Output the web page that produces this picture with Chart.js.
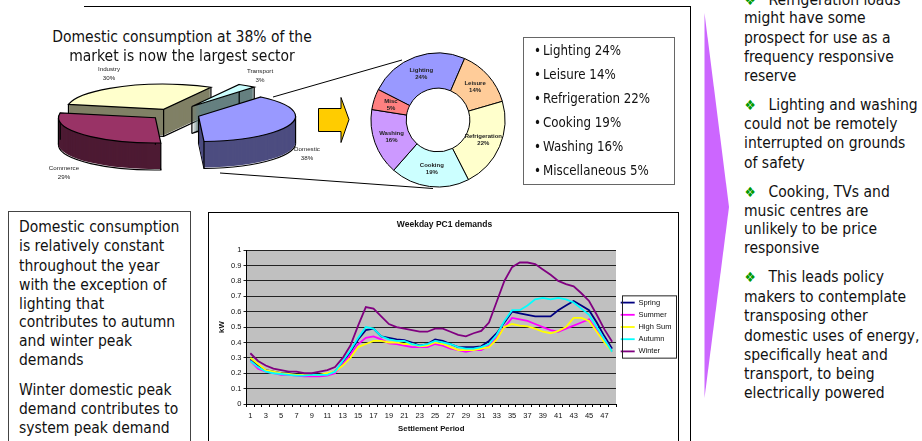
<!DOCTYPE html>
<html>
<head>
<meta charset="utf-8">
<title>Domestic consumption</title>
<script src="https://cdn.jsdelivr.net/npm/chart.js@4"></script>
<style>
  html, body { margin: 0; padding: 0; background: #fff; }
  body { width: 922px; height: 441px; position: relative; overflow: hidden; font-family: "DejaVu Sans Condensed", "DejaVu Sans", sans-serif; font-stretch: condensed; color: #111; }
  canvas { position: absolute; }
  svg { position: absolute; left: 0; top: 0; }
  .t { position: absolute; white-space: nowrap; line-height: 20px; font-size: 15.5px; }
  .small { position: absolute; white-space: nowrap; font-family: "Liberation Sans", sans-serif; font-size: 6.2px; line-height: 9.5px; text-align: center; color: #222; font-stretch: normal; }
  .box { position: absolute; box-sizing: border-box; background: #fff; }
</style>
</head>
<body>

<svg width="922" height="441">
  <!-- frame rules, callout lines, arrows -->
  <line x1="84" y1="6.5" x2="690" y2="6.5" stroke="#000" stroke-width="1"/>
  <line x1="690.5" y1="6" x2="690.5" y2="441" stroke="#000" stroke-width="1"/>
  <line x1="273" y1="97" x2="402" y2="60" stroke="#000" stroke-width="1"/>
  <line x1="220" y1="173" x2="433" y2="188.5" stroke="#000" stroke-width="1"/>
  <polygon points="318.5,108.5 341,108.5 341,97.5 349,119.5 341,142.5 341,131.5 318.5,131.5" fill="#ffcc00" stroke="#000" stroke-width="1"/>
  <polygon points="704.5,13 729,207 704.5,398" fill="#cc66ff"/>
</svg>

<div class="box" style="left:522.5px;top:36.5px;width:152px;height:148px;border:1.5px solid #666"></div>
<div class="box" style="left:7.5px;top:211px;width:183px;height:240px;border:1px solid #444"></div>
<div class="box" style="left:208px;top:212px;width:471px;height:240px;border:1.5px solid #000"></div>

<canvas id="pieChart" width="300" height="132" style="left:22px;top:48px"></canvas>
<canvas id="ringChart" width="140" height="140" style="left:368px;top:50px"></canvas>
<canvas id="demandChart" width="469" height="228" style="left:209.5px;top:213px"></canvas>

<script>
var sectorNames = ["Domestic", "Commerce", "Industry", "Transport"];
var sectorShares = [38, 29, 30, 3];

var useNames = ["Lighting", "Leisure", "Refrigeration", "Cooking", "Washing", "Misc"];
var useFullNames = ["Lighting", "Leisure", "Refrigeration", "Cooking", "Washing", "Miscellaneous"];
var useShares = [24, 14, 22, 19, 16, 5];

var periods = [];
for (var p = 1; p <= 48; p++) periods.push(p);

var spring = [0.29,0.25,0.22,0.21,0.20,0.20,0.19,0.185,0.19,0.19,0.19,0.21,0.27,0.34,0.42,0.48,0.49,0.44,0.43,0.42,0.415,0.40,0.38,0.39,0.42,0.41,0.39,0.37,0.37,0.37,0.375,0.41,0.46,0.53,0.60,0.59,0.58,0.57,0.57,0.57,0.61,0.64,0.67,0.64,0.61,0.53,0.44,0.36];
var summer = [0.28,0.23,0.21,0.20,0.19,0.19,0.185,0.18,0.18,0.18,0.185,0.20,0.26,0.32,0.39,0.43,0.44,0.42,0.395,0.39,0.38,0.37,0.37,0.37,0.39,0.38,0.36,0.35,0.34,0.35,0.35,0.38,0.43,0.50,0.56,0.55,0.54,0.52,0.50,0.48,0.47,0.49,0.51,0.53,0.55,0.48,0.42,0.34];
var highSummer = [0.30,0.26,0.22,0.21,0.20,0.195,0.19,0.19,0.19,0.19,0.20,0.21,0.25,0.30,0.37,0.39,0.41,0.41,0.40,0.40,0.39,0.39,0.375,0.38,0.40,0.39,0.37,0.35,0.35,0.35,0.36,0.37,0.42,0.50,0.52,0.51,0.505,0.49,0.47,0.46,0.475,0.50,0.56,0.56,0.54,0.47,0.40,0.34];
var autumn = [0.28,0.24,0.21,0.20,0.195,0.19,0.185,0.185,0.19,0.19,0.19,0.21,0.28,0.35,0.43,0.50,0.49,0.44,0.42,0.41,0.41,0.39,0.38,0.39,0.41,0.40,0.39,0.37,0.36,0.36,0.37,0.39,0.45,0.54,0.61,0.61,0.64,0.68,0.69,0.68,0.69,0.68,0.66,0.62,0.58,0.50,0.42,0.34];
var winter = [0.33,0.28,0.25,0.23,0.22,0.21,0.21,0.20,0.20,0.21,0.22,0.24,0.30,0.38,0.51,0.63,0.62,0.57,0.52,0.50,0.49,0.48,0.47,0.47,0.49,0.49,0.47,0.45,0.44,0.46,0.475,0.53,0.665,0.80,0.89,0.92,0.92,0.91,0.875,0.84,0.80,0.78,0.765,0.72,0.67,0.58,0.485,0.405];

var seriesNames = ["Spring", "Summer", "High Sum", "Autumn", "Winter"];
var seriesValues = [spring, summer, highSummer, autumn, winter];
var seriesColours = ["#000080", "#ff00ff", "#ffff00", "#00ffff", "#800080"];

// body text, one entry per line: [x, centre y, text]
var textLines = [
	[182, 37, "Domestic consumption at 38% of the", "c"],
	[182, 56, "market is now the largest sector", "c"],
	[19, 227, "Domestic consumption"],
	[19, 246, "is relatively constant"],
	[19, 265.5, "throughout the year"],
	[19, 285, "with the exception of"],
	[19, 303.5, "lighting that"],
	[19, 322, "contributes to autumn"],
	[19, 341, "and winter peak"],
	[19, 360, "demands"],
	[19, 390, "Winter domestic peak"],
	[19, 409, "demand contributes to"],
	[19, 428, "system peak demand"],
	[744, 18, "might have some"],
	[744, 38, "prospect for use as a"],
	[744, 57, "frequency responsive"],
	[744, 76, "reserve"],
	[744, 124, "could not be remotely"],
	[744, 143, "interrupted on grounds"],
	[744, 163, "of safety"],
	[744, 211, "music centres are"],
	[744, 229, "unlikely to be price"],
	[744, 248, "responsive"],
	[744, 297, "makers to contemplate"],
	[744, 316, "transposing other"],
	[744, 336, "domestic uses of energy,"],
	[744, 355, "specifically heat and"],
	[744, 374, "transport, to being"],
	[744, 393, "electrically powered"]
];
var bulletLines = [
	[0, "Refrigeration loads"],
	[105, "Lighting and washing"],
	[192, "Cooking, TVs and"],
	[277, "This leads policy"]
];

function addText(x, y, str, css) {
	var d = document.createElement("div");
	d.className = "t";
	d.textContent = str;
	d.style.left = x + "px";
	d.style.top = (y - 10) + "px";
	if (css) d.style.cssText += css;
	document.body.appendChild(d);
	return d;
}

textLines.forEach(function(l) {
	var d = addText(l[0], l[1], l[2]);
	if (l[3] == "c") d.style.transform = "translateX(-50%)";
});
bulletLines.forEach(function(l) {
	addText(744.5, l[0], "\u2756", "color:#009900;font-size:14px;font-family:'DejaVu Sans'");
	addText(768.5, l[0], l[1]);
});

// percentage list next to the ring
useFullNames.forEach(function(name, i) {
	var y = 50.5 + i * 24;
	addText(534, y, "\u2022", "font-size:13.2px");
	addText(543, y, name + " " + useShares[i] + "%", "font-size:13.2px");
});

// small captions round the pie
var sectorCaptionPos = [[307, 153], [64, 172], [109, 73], [260, 75]];
sectorNames.forEach(function(name, i) {
	var d = document.createElement("div");
	d.className = "small";
	d.innerHTML = name + "<br>" + sectorShares[i] + "%";
	d.style.left = (sectorCaptionPos[i][0] - 20) + "px";
	d.style.width = "40px";
	d.style.top = (sectorCaptionPos[i][1] - 9.5) + "px";
	document.body.appendChild(d);
});

Chart.defaults.animation = false;
Chart.defaults.font.family = "'Liberation Sans', Arial, sans-serif";
Chart.defaults.color = "#111";

// tilted pie: the arcs keep their chart.js angles, but get painted as ellipses with a wall
var SQUASH = 0.26;
var DEPTH = 27;
var topColours = ["#9999ff", "#993366", "#ffffcc", "#ccffff"];
var wallColours = ["#4d4d80", "#4d1a33", "#808066", "#668080"];

function slicePath(ctx, cx, cy, r, a0, a1) {
	ctx.beginPath();
	ctx.moveTo(cx, cy);
	ctx.ellipse(cx, cy, r, r * SQUASH, 0, a0, a1);
	ctx.closePath();
}

var tiltedPie = {
	id: "tiltedPie",
	beforeDatasetsDraw: function(chart) {
		var ctx = chart.ctx;
		var arcs = chart.getDatasetMeta(0).data;
		// back to front
		[2, 3, 1, 0].forEach(function(i) {
			var a = arcs[i];
			var off = a.options.offset;
			var mid = (a.startAngle + a.endAngle) / 2;
			var cx = a.x + Math.cos(mid) * off;
			var cy = a.y + Math.sin(mid) * off * SQUASH;
			var r = a.outerRadius;

			ctx.save();
			ctx.lineWidth = 1.2;
			ctx.strokeStyle = "#000";
			slicePath(ctx, cx, cy + DEPTH, r, a.startAngle, a.endAngle);
			ctx.stroke();
			ctx.fillStyle = wallColours[i];
			for (var d = DEPTH - 1; d > 0; d--) {
				slicePath(ctx, cx, cy + d, r, a.startAngle, a.endAngle);
				ctx.fill();
			}
			// vertical edges
			var edges = [a.startAngle, a.endAngle];
			var stops = [[cx, cy]];
			edges.forEach(function(t) {
				stops.push([cx + Math.cos(t) * r, cy + Math.sin(t) * r * SQUASH]);
			});
			[0, Math.PI, Math.PI * 2, Math.PI * 3].forEach(function(t) {
				if (t > a.startAngle && t < a.endAngle) stops.push([cx + Math.cos(t) * r, cy]);
			});
			ctx.beginPath();
			stops.forEach(function(s) {
				ctx.moveTo(s[0], s[1]);
				ctx.lineTo(s[0], s[1] + DEPTH);
			});
			ctx.stroke();
			slicePath(ctx, cx, cy, r, a.startAngle, a.endAngle);
			ctx.fillStyle = topColours[i];
			ctx.fill();
			ctx.stroke();
			ctx.restore();
		});
		return false;
	}
};

new Chart(document.getElementById("pieChart"), {
	type: "pie",
	data: {
		labels: sectorNames,
		datasets: [{
			data: sectorShares,
			backgroundColor: topColours,
			radius: 97,
			offset: [28, 22, 20, 35]
		}]
	},
	options: {
		responsive: false,
		rotation: 40,
		layout: { padding: 0 },
		plugins: { legend: { display: false }, tooltip: { enabled: false } }
	},
	plugins: [tiltedPie]
});

// name and percentage inside every ring segment
var ringLabels = {
	id: "ringLabels",
	afterDatasetsDraw: function(chart) {
		var ctx = chart.ctx;
		ctx.save();
		ctx.font = "bold 6px 'Liberation Sans', Arial, sans-serif";
		ctx.textAlign = "center";
		ctx.textBaseline = "middle";
		ctx.fillStyle = "#222";
		chart.getDatasetMeta(0).data.forEach(function(arc, i) {
			var c = arc.getCenterPoint();
			ctx.fillText(useNames[i], c.x, c.y - 3.5);
			ctx.fillText(useShares[i] + "%", c.x, c.y + 3.5);
		});
		ctx.restore();
	}
};

new Chart(document.getElementById("ringChart"), {
	type: "doughnut",
	data: {
		labels: useNames,
		datasets: [{
			data: useShares,
			backgroundColor: ["#9999ff", "#ffcc99", "#ffffcc", "#ccffff", "#cc99ff", "#ff8080"],
			borderColor: "#000",
			borderWidth: 1,
			borderAlign: "center",
			radius: 67
		}]
	},
	options: {
		responsive: false,
		rotation: -63,
		cutout: 33,
		layout: { padding: 0 },
		plugins: { legend: { display: false }, tooltip: { enabled: false } }
	},
	plugins: [ringLabels]
});

// frame round the legend, and a fixed width for it so the plot lands where it should
var legendFrame = {
	id: "legendFrame",
	beforeInit: function(chart) {
		var fit = chart.legend.fit;
		chart.legend.fit = function() {
			fit.call(this);
			this.width = 63;
		};
	},
	afterDraw: function(chart) {
		var lg = chart.legend;
		var hits = lg.legendHitBoxes;
		var top = hits[0].top - 3;
		var bottom = hits[hits.length - 1].top + hits[hits.length - 1].height + 3;
		var ctx = chart.ctx;
		ctx.save();
		ctx.strokeStyle = "#222";
		ctx.lineWidth = 1;
		ctx.strokeRect(lg.left + 6.5, top, 54, bottom - top);
		ctx.restore();
	}
};

new Chart(document.getElementById("demandChart"), {
	type: "line",
	data: {
		labels: periods,
		datasets: seriesNames.map(function(name, i) {
			return {
				label: name,
				data: seriesValues[i],
				borderColor: seriesColours[i],
				backgroundColor: seriesColours[i],
				borderWidth: 1.8,
				pointRadius: 0,
				tension: 0,
				order: 5 - i
			};
		})
	},
	options: {
		responsive: false,
		layout: { padding: 0 },
		scales: {
			x: {
				offset: true,
				grid: { offset: true, drawOnChartArea: false, tickLength: 3, color: "#000" },
				border: { color: "#000" },
				ticks: {
					autoSkip: false,
					maxRotation: 0,
					padding: 4,
					font: { size: 7.5 },
					callback: function(v, i) { return i % 2 == 0 ? this.getLabelForValue(v) : ""; }
				},
				title: { display: true, text: "Settlement Period", font: { size: 7.8, weight: "bold" }, padding: { top: 0, bottom: 7 } },
				afterFit: function(scale) { scale.height = 37; }
			},
			y: {
				min: 0,
				max: 1,
				grid: { color: "#222", lineWidth: 1, tickLength: 3 },
				border: { color: "#000" },
				ticks: {
					stepSize: 0.1,
					padding: 2,
					font: { size: 7.5 },
					callback: function(v) { return String(+v.toFixed(1)); }
				},
				title: { display: true, text: "kW", font: { size: 7.8, weight: "bold" }, padding: { top: 7, bottom: 0 } },
				afterFit: function(scale) { scale.width = 36.5; }
			}
		},
		plugins: {
			title: {
				display: true,
				text: "Weekday PC1 demands",
				font: { size: 8.5, weight: "bold" },
				color: "#111",
				padding: { top: 7, bottom: 20 }
			},
			legend: {
				position: "right",
				labels: {
					usePointStyle: true,
					pointStyle: "line",
					pointStyleWidth: 14,
					boxHeight: 7.5,
					padding: 4.7,
					font: { size: 7.5 },
					sort: function(a, b) { return a.datasetIndex - b.datasetIndex; }
				}
			},
			tooltip: { enabled: false }
		}
	},
	plugins: [
		legendFrame,
		{
			id: "plotBackground",
			beforeDraw: function(chart) {
				var a = chart.chartArea;
				chart.ctx.fillStyle = "#c0c0c0";
				chart.ctx.fillRect(a.left, a.top, a.width, a.height);
			}
		}
	]
});
</script>
</body>
</html>
